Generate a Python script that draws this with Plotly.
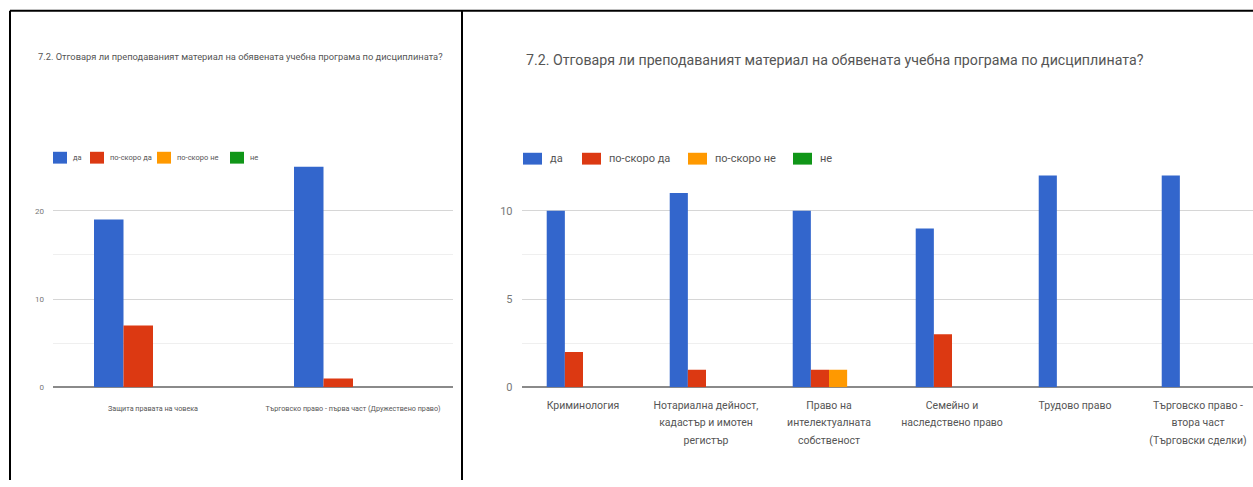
import plotly.graph_objects as go

# ---------------- data ----------------
series_names = ["да", "по-скоро да", "по-скоро не", "не"]
series_colors = ["#3366cc", "#dc3912", "#ff9900", "#109618"]

title_text = "7.2. Отговаря ли преподаваният материал на обявената учебна програма по дисциплината?"

left_categories = [
    "Защита правата на човека",
    "Търговско право - първа част (Дружествено право)",
]
left_da = [19, 25]
left_poskoro_da = [7, 1]
left_poskoro_ne = [0, 0]
left_ne = [0, 0]
left_tickvals = [0, 10, 20]

right_categories = [
    "Криминология",
    "Нотариална дейност,<br>кадастър и имотен<br>регистър",
    "Право на<br>интелектуалната<br>собственост",
    "Семейно и<br>наследствено право",
    "Трудово право",
    "Търговско право -<br>втора част<br>(Търговски сделки)",
]
right_da = [10, 11, 10, 9, 12, 12]
right_poskoro_da = [2, 1, 1, 3, 0, 0]
right_poskoro_ne = [0, 0, 1, 0, 0, 0]
right_ne = [0, 0, 0, 0, 0, 0]
right_tickvals = [0, 5, 10]

# ---------------- figure ----------------
W, H = 1253, 487
FONT = "Roboto"


def px_x(x):
    return x / W


def px_y(y):
    return 1 - y / H


fig = go.Figure()

left_series = [left_da, left_poskoro_da, left_poskoro_ne, left_ne]
right_series = [right_da, right_poskoro_da, right_poskoro_ne, right_ne]

for name, color, vals in zip(series_names, series_colors, left_series):
    fig.add_trace(go.Bar(
        x=left_categories, y=vals, name=name, marker_color=color,
        marker_line_width=0, xaxis="x", yaxis="y", showlegend=False,
    ))

for name, color, vals in zip(series_names, series_colors, right_series):
    fig.add_trace(go.Bar(
        x=right_categories, y=vals, name=name, marker_color=color,
        marker_line_width=0, xaxis="x2", yaxis="y2", showlegend=False,
    ))

# right category labels: small glyphs, but generous line spacing (as in the reference)
right_ticktext = [
    "<br>".join('<span style="font-size:10.5px">%s</span>' % line for line in c.split("<br>"))
    for c in right_categories
]

y_bottom = px_y(393)
y_top = px_y(169)

axis_common_y = dict(
    showline=False, zeroline=True, zerolinecolor="#8a8a8a", zerolinewidth=2,
    gridcolor="#d6d6d6", gridwidth=1, ticks="", fixedrange=True,
)

fig.update_layout(
    width=W, height=H,
    margin=dict(l=0, r=0, t=0, b=0),
    paper_bgcolor="white", plot_bgcolor="white",
    barmode="group", bargap=0.41, bargroupgap=0,
    font=dict(family=FONT, color="#666666"),
    showlegend=False,
    xaxis=dict(
        domain=[px_x(53), px_x(453)], anchor="y", type="category",
        range=[-0.5, 1.5], showgrid=False, showline=False, ticks="",
        tickfont=dict(size=7.2, color="#555555"), ticklabelstandoff=15,
        fixedrange=True,
    ),
    yaxis=dict(
        domain=[y_bottom, y_top], anchor="x", range=[0, 25],
        tickvals=left_tickvals, tickfont=dict(size=8, color="#777777"),
        ticklabelstandoff=8,
        minor=dict(dtick=5, tick0=0, showgrid=True, gridcolor="#efefef", ticks=""),
        **axis_common_y,
    ),
    xaxis2=dict(
        domain=[px_x(521.5), 1], anchor="y2", type="category",
        range=[-0.5, -0.5 + 731.5 / 123], showgrid=False, showline=False, ticks="",
        tickvals=right_categories, ticktext=right_ticktext,
        tickfont=dict(size=13.5, color="#555555"), ticklabelstandoff=7,
        fixedrange=True,
    ),
    yaxis2=dict(
        domain=[y_bottom, y_top], anchor="x2", range=[0, 12.5],
        tickvals=right_tickvals, tickfont=dict(size=11, color="#777777"),
        ticklabelstandoff=8,
        minor=dict(dtick=2.5, tick0=0, showgrid=True, gridcolor="#efefef", ticks=""),
        **axis_common_y,
    ),
)

# legends (one per panel), built from the series names / colours
legend_specs = [
    dict(xs=[53, 90, 157, 230], w=14, h=12, cy=160, size=7.5, gap=4),
    dict(xs=[523, 582, 688, 793], w=19, h=12, cy=161, size=11, gap=6),
]
for spec in legend_specs:
    for x0, name, color in zip(spec["xs"], series_names, series_colors):
        fig.add_shape(type="rect", xref="paper", yref="paper",
                      x0=px_x(x0), x1=px_x(x0 + spec["w"]),
                      y0=px_y(spec["cy"] + spec["h"] / 2),
                      y1=px_y(spec["cy"] - spec["h"] / 2),
                      fillcolor=color, line_width=0)
        fig.add_annotation(text=name, xref="paper", yref="paper",
                           x=px_x(x0 + spec["w"] + spec["gap"]), y=px_y(spec["cy"]),
                           xanchor="left", yanchor="middle", showarrow=False,
                           font=dict(family=FONT, size=spec["size"], color="#555555"))

# titles
fig.add_annotation(
    text=title_text, xref="paper", yref="paper",
    x=px_x(36), y=px_y(57), xanchor="left", yanchor="middle",
    showarrow=False, font=dict(family=FONT, size=9.3, color="#555555"),
)
fig.add_annotation(
    text=title_text, xref="paper", yref="paper",
    x=px_x(524), y=px_y(61), xanchor="left", yanchor="middle",
    showarrow=False, font=dict(family=FONT, size=14.2, color="#555555"),
)

# panel borders
border = dict(color="black", width=2)
fig.add_shape(type="line", xref="paper", yref="paper",
              x0=px_x(10), x1=px_x(10), y0=0, y1=px_y(11), line=border)
fig.add_shape(type="line", xref="paper", yref="paper",
              x0=px_x(10), x1=1, y0=px_y(11), y1=px_y(11), line=border)
fig.add_shape(type="line", xref="paper", yref="paper",
              x0=px_x(462), x1=px_x(462), y0=0, y1=px_y(11), line=border)

fig.write_html("out.html", config={"displayModeBar": False},
               post_script="document.body.style.margin='0';")
